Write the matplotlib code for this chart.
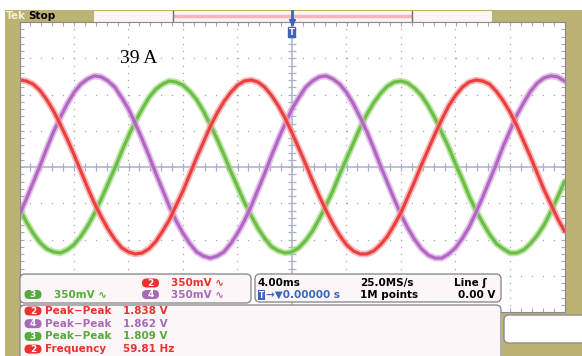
import numpy as np
import matplotlib
matplotlib.use("Agg")
import matplotlib.pyplot as plt
from matplotlib.patches import Rectangle, FancyBboxPatch

# time axis of the scope, ms (4.00 ms/div, trigger at centre), one reading every 0.5 ms
t_ms = np.arange(-20, 20.001, 0.5)
# readings off the screen, volts (350 mV/div)
ch2 = [0.84, 0.83, 0.80, 0.74, 0.65, 0.54, 0.41, 0.27, 0.12, -0.04,
       -0.20, -0.35, -0.48, -0.60, -0.70, -0.78, -0.82, -0.84, -0.83, -0.79,
       -0.72, -0.62, -0.51, -0.37, -0.23, -0.07, 0.09, 0.24, 0.39, 0.52,
       0.63, 0.72, 0.79, 0.83, 0.84, 0.82, 0.77, 0.69, 0.59, 0.47,
       0.33, 0.18, 0.03, -0.13, -0.28, -0.42, -0.55, -0.66, -0.75, -0.81,
       -0.84, -0.84, -0.81, -0.75, -0.67, -0.56, -0.44, -0.29, -0.14, 0.02,
       0.17, 0.32, 0.46, 0.59, 0.69, 0.77, 0.82, 0.84, 0.83, 0.80,
       0.73, 0.64, 0.53, 0.40, 0.25, 0.10, -0.06, -0.22, -0.36, -0.50, -0.62]
ch4 = [-0.46, -0.31, -0.15, 0.01, 0.18, 0.34, 0.48, 0.61, 0.72, 0.80,
       0.85, 0.88, 0.87, 0.83, 0.77, 0.67, 0.56, 0.42, 0.27, 0.11,
       -0.06, -0.22, -0.38, -0.52, -0.64, -0.74, -0.82, -0.86, -0.88, -0.86,
       -0.82, -0.74, -0.64, -0.52, -0.38, -0.22, -0.06, 0.11, 0.27, 0.42,
       0.56, 0.67, 0.77, 0.83, 0.87, 0.88, 0.85, 0.80, 0.72, 0.61,
       0.48, 0.34, 0.18, 0.01, -0.15, -0.31, -0.46, -0.59, -0.70, -0.79,
       -0.85, -0.88, -0.88, -0.84, -0.78, -0.69, -0.58, -0.44, -0.29, -0.13,
       0.03, 0.20, 0.35, 0.50, 0.62, 0.73, 0.81, 0.86, 0.88, 0.87, 0.83]
ch3 = [-0.40, -0.53, -0.64, -0.73, -0.79, -0.82, -0.83, -0.80, -0.75, -0.67,
       -0.57, -0.45, -0.31, -0.16, -0.01, 0.15, 0.30, 0.44, 0.56, 0.67,
       0.75, 0.80, 0.83, 0.82, 0.79, 0.73, 0.65, 0.54, 0.41, 0.27,
       0.12, -0.04, -0.19, -0.34, -0.47, -0.59, -0.69, -0.77, -0.81, -0.83,
       -0.82, -0.78, -0.71, -0.62, -0.50, -0.37, -0.23, -0.07, 0.08, 0.23,
       0.38, 0.51, 0.62, 0.71, 0.78, 0.82, 0.83, 0.81, 0.76, 0.69,
       0.59, 0.47, 0.33, 0.19, 0.03, -0.12, -0.28, -0.42, -0.54, -0.65,
       -0.74, -0.79, -0.83, -0.83, -0.80, -0.74, -0.66, -0.56, -0.43, -0.29, -0.14]

chan_scale = "350mV \u223f"
timebase = "4.00ms"
sample_rate = "25.0MS/s"
record = "1M points"
trig_src = "Line \u0283"
trig_pos = "\u2192\u25bc0.00000 s"
trig_level = "0.00 V"
meas_ch = ["2", "4", "3", "2"]
meas_label = ["Peak\u2212Peak", "Peak\u2212Peak", "Peak\u2212Peak", "Frequency"]
meas_value = ["1.838 V", "1.862 V", "1.809 V", "59.81 Hz"]
note = "39 A"

W, H = 582, 356
OLIVE = "#bcb274"
RED, PURPLE, GREEN, BLUE = "#e8332f", "#a86bb8", "#55ab3e", "#3a66b8"
ch_col = {"2": RED, "3": GREEN, "4": PURPLE}

fig = plt.figure(figsize=(5.82, 3.56), dpi=100)

def px_axes(z):
    a = fig.add_axes([0, 0, 1, 1], zorder=z)
    a.set_xlim(0, W)
    a.set_ylim(H, 0)
    a.axis("off")
    a.patch.set_alpha(0)
    return a

bg = px_axes(0)
x0, x1, y0, y1 = 19.5, 564.5, 22, 312
sc = fig.add_axes([x0 / W, 1 - y1 / H, (x1 - x0) / W, (y1 - y0) / H], zorder=1)
fg = px_axes(2)

# frame round the screen
for r in [(5, 10, 14.5, 346), (5, 10, 88, 12), (492, 10, 90, 12), (564.5, 10, 18, 303), (502, 312, 80, 44)]:
    bg.add_patch(Rectangle((r[0], r[1]), r[2], r[3], fc=OLIVE, ec="none"))
bg.add_patch(Rectangle((93, 10), 399, 11.5, fc="#fdf4f7", ec=OLIVE, lw=0.8))
bg.plot([173, 412], [15.5, 15.5], color="#f5b3ba", lw=2.5, solid_capstyle="butt")
bg.plot([173, 173], [11, 20.5], color="#707070", lw=1)
bg.plot([412, 412], [11, 20.5], color="#707070", lw=1)
bg.text(5.5, 16, "Tek", color="#f3efd9", fontsize=7.5, fontweight="bold", va="center")
bg.text(28, 16, "Stop", color="black", fontsize=7.5, fontweight="bold", va="center")

# graticule
sc.set_xlim(-20, 20)
sc.set_ylim(-1.4, 1.4)
gc = "#a3a8bd"
for xv in np.arange(-16, 17, 4):
    if xv != 0:
        ys = np.arange(-1.4, 1.401, 0.07)
        sc.plot(np.full_like(ys, xv), ys, ls="none", marker="s", ms=0.9, color=gc, mew=0)
for yv in np.arange(-1.05, 1.06, 0.35):
    if abs(yv) > 1e-6:
        xs = np.arange(-20, 20.01, 0.8)
        sc.plot(xs, np.full_like(xs, yv), ls="none", marker="s", ms=0.9, color=gc, mew=0)
sc.axhline(0, color="#aab0c9", lw=1.1)
sc.axvline(0, color="#aab0c9", lw=1.1)
xs = np.arange(-20, 20.01, 0.8)
sc.plot(xs, np.zeros_like(xs), ls="none", marker="|", ms=6, mew=0.9, color="#aab0c9")
ys = np.arange(-1.4, 1.401, 0.07)
sc.plot(np.zeros_like(ys), ys, ls="none", marker="_", ms=6, mew=0.9, color="#aab0c9")
sc.set_xticks(np.arange(-20, 20.01, 0.8))
sc.set_yticks(np.arange(-1.4, 1.401, 0.07))
sc.tick_params(direction="in", length=3, width=0.8, colors="#a3a8bd", top=True, right=True,
               labelbottom=False, labelleft=False)
for s in sc.spines.values():
    s.set_color("#8a8a8a")
    s.set_linewidth(0.8)

# traces
for v, c, fz in [(ch3, "#6cbf45", "#a6db8a"), (ch4, "#b466c4", "#d6a8df"), (ch2, "#ec4040", "#f4a0a0")]:
    sc.plot(t_ms, v, color=fz, lw=4.8, alpha=0.7, solid_capstyle="round")
    sc.plot(t_ms, v, color=c, lw=2.3, solid_capstyle="round")

sc.text(-12.6, 1.05, note, fontsize=14, family="Liberation Serif", va="center", ha="left")

# trigger marker
fg.plot([292, 292], [11, 24], color=BLUE, lw=2)
fg.plot([292], [22], marker="v", ms=5, color=BLUE)
fg.text(292, 32.5, "T", color="white", fontsize=6, fontweight="bold", ha="center", va="center",
        bbox=dict(boxstyle="round,pad=0.15", fc=BLUE, ec="none"))

# readout panels
def panel(x, y, w, h, fc="#fdf6f8"):
    fg.add_patch(FancyBboxPatch((x, y), w, h, boxstyle="round,pad=0,rounding_size=5",
                                fc=fc, ec="#8d8d8d", lw=1))

panel(20, 274, 231, 29)
panel(255, 274, 246, 28)
panel(20, 305, 481, 60)
panel(504, 315, 85, 28, fc="white")

def badge(xc, y, s, c):
    fg.add_patch(FancyBboxPatch((xc - 8.5, y - 4.5), 17, 9, boxstyle="round,pad=0,rounding_size=4.5",
                                fc=c, ec="none"))
    fg.text(xc, y + 0.3, s, color="white", fontsize=6.5, fontweight="bold", ha="center", va="center")

tk = dict(fontsize=7.5, fontweight="bold", va="center")
badge(150.5, 283, "2", RED)
fg.text(171, 283, chan_scale, color=RED, **tk)
badge(33, 294.5, "3", GREEN)
fg.text(54, 294.5, chan_scale, color=GREEN, **tk)
badge(150.5, 294.5, "4", PURPLE)
fg.text(171, 294.5, chan_scale, color=PURPLE, **tk)

fg.text(258, 283, timebase, color="black", **tk)
fg.text(360, 283, sample_rate, color="black", **tk)
fg.text(487, 283, trig_src, color="black", ha="right", **tk)
fg.text(261.5, 295, "T", color="white", fontsize=5.5, fontweight="bold", ha="center", va="center",
        bbox=dict(boxstyle="square,pad=0.12", fc=BLUE, ec="none"))
fg.text(266, 295, trig_pos, color=BLUE, **tk)
fg.text(360, 295, record, color="black", **tk)
fg.text(495, 295, trig_level, color="black", ha="right", **tk)

for i in range(len(meas_ch)):
    y = 311 + i * 12.7
    c = ch_col[meas_ch[i]]
    badge(33, y, meas_ch[i], c)
    fg.text(45.5, y, meas_label[i], color=c, **tk)
    fg.text(123, y, meas_value[i], color=c, **tk)

fig.savefig("out.png", dpi=100)
